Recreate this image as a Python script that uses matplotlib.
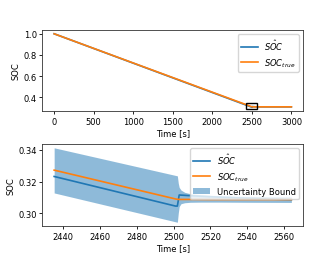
import matplotlib
matplotlib.use("Agg")
import matplotlib.pyplot as plt
from matplotlib.patches import Rectangle
import numpy as np

# full run: knots
t_full = [0, 2435, 2501, 2502, 2503, 2510, 2520, 2540, 2564, 3000]
soc_true = [1.0, 0.3272, 0.3090, 0.3088, 0.3087, 0.3087, 0.3086, 0.3086, 0.3086, 0.3086]
soc_est = [1.0, 0.3232, 0.3045, 0.3045, 0.3115, 0.3110, 0.3104, 0.3094, 0.3085, 0.3084]

# uncertainty band (zoomed window only)
t_band = [2435, 2502, 2502.5, 2503, 2504, 2506, 2509, 2515, 2525, 2540, 2564]
band_hi = [0.3413, 0.3236, 0.3190, 0.3163, 0.3146, 0.3132, 0.3123, 0.3116, 0.3110, 0.3106, 0.3103]
band_lo = [0.3128, 0.2943, 0.3000, 0.3042, 0.3060, 0.3066, 0.3069, 0.3070, 0.3070, 0.3069, 0.3068]

xt_top = [0, 500, 1000, 1500, 2000, 2500, 3000]
yt_top = [0.4, 0.6, 0.8, 1.0]
xt_bot = [2440, 2460, 2480, 2500, 2520, 2540, 2560]
yt_bot = [0.30, 0.32, 0.34]

plt.rcParams.update({'font.size': 6, 'axes.linewidth': 0.6,
                     'axes.edgecolor': '#333333',
                     'xtick.major.size': 2.2, 'ytick.major.size': 2.2,
                     'xtick.major.width': 0.6, 'ytick.major.width': 0.6,
                     'xtick.major.pad': 1.8, 'ytick.major.pad': 1.8,
                     'legend.fontsize': 6, 'axes.labelpad': 1.8})

fig = plt.figure(figsize=(3.11, 2.55), dpi=100)
ax1 = fig.add_axes([0.136, 0.561, 0.839, 0.317])
ax2 = fig.add_axes([0.136, 0.110, 0.839, 0.321])

t = np.array(t_full)
ax1.plot(t, soc_est, color='tab:blue', lw=1.2, label=r'$\hat{SOC}$')
ax1.plot(t, soc_true, color='tab:orange', lw=1.2, label=r'$SOC_{true}$')
ax1.set_xticks(xt_top)
ax1.set_yticks(yt_top)
ax1.set_xlabel('Time [s]')
ax1.set_ylabel('SOC')
ax1.legend(loc='upper right')

m = (t >= 2435) & (t <= 2564)
ax2.plot(t[m], np.array(soc_est)[m], color='tab:blue', lw=1.2, label=r'$\hat{SOC}$')
ax2.plot(t[m], np.array(soc_true)[m], color='tab:orange', lw=1.2, label=r'$SOC_{true}$')
ax2.fill_between(t_band, band_lo, band_hi, color='tab:blue', alpha=0.5, lw=0,
                 label='Uncertainty Bound')
ax2.set_xticks(xt_bot)
ax2.set_yticks(yt_bot)
ax2.set_xlabel('Time [s]')
ax2.set_ylabel('SOC')
ax2.legend(loc='upper right')

# box on the top plot showing the zoomed window
x0, x1 = ax2.get_xlim()
y0, y1 = ax2.get_ylim()
ax1.add_patch(Rectangle((x0, y0), x1 - x0, y1 - y0, fill=False,
                        edgecolor='black', lw=1.0, zorder=5))

fig.savefig('out.png', dpi=100)
